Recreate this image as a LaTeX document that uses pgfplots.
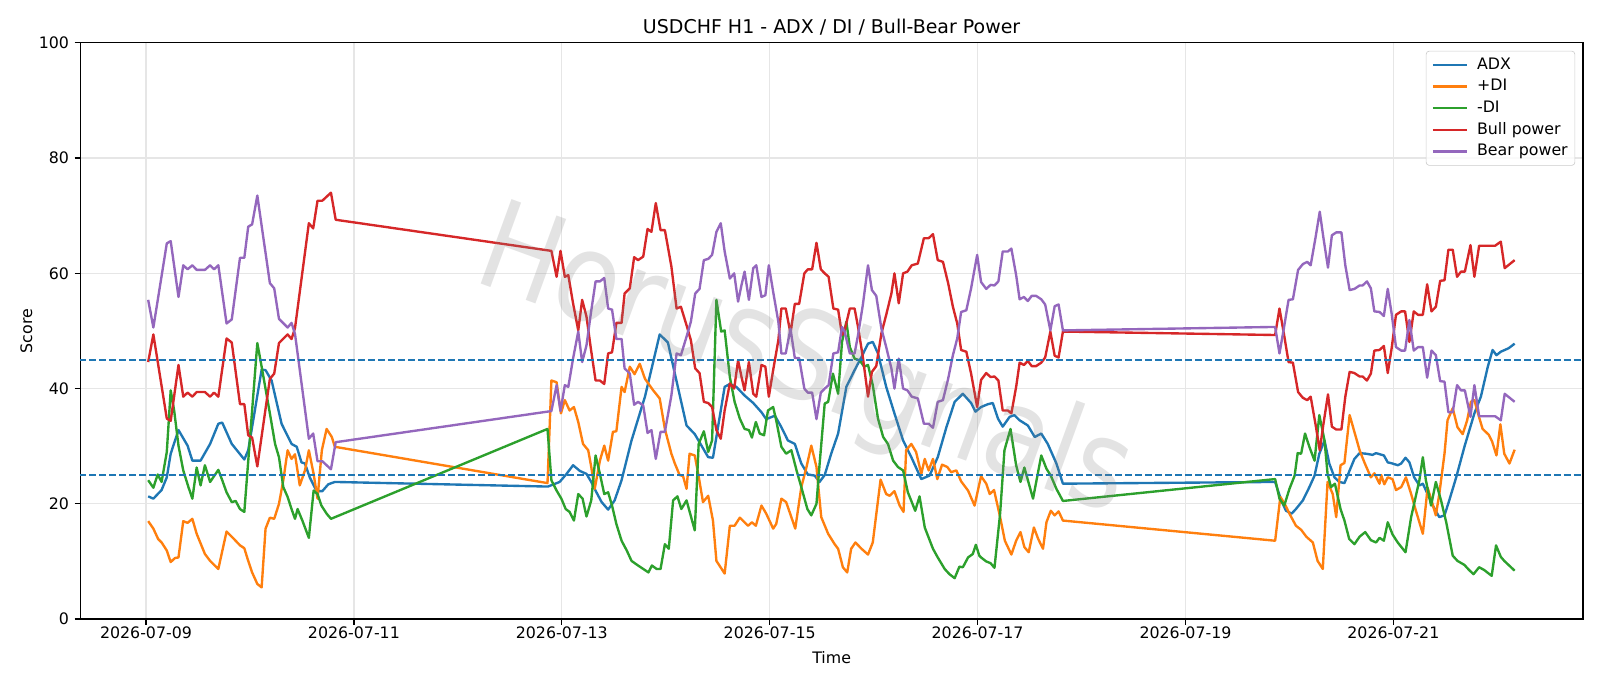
\documentclass[border=0pt]{standalone}
\usepackage{fontspec}
\setmainfont{DejaVu Sans}
\usepackage{pgfplots}
\pgfplotsset{compat=1.18}
\definecolor{tabblue}{HTML}{1F77B4}
\definecolor{taborange}{HTML}{FF7F0E}
\definecolor{tabgreen}{HTML}{2CA02C}
\definecolor{tabred}{HTML}{D62728}
\definecolor{tabpurple}{HTML}{9467BD}
\definecolor{gridgray}{HTML}{E6E6E6}
\begin{document}
\begin{tikzpicture}
\path[use as bounding box] (-50.7pt,-42.3pt) rectangle (961.1pt,391.5pt);
\begin{axis}[
  at={(0,0)}, anchor=south west,
  scale only axis, width=950.4pt, height=364.4pt,
  xmin=-15.2, xmax=331.8, ymin=0, ymax=100,
  font=\fontsize{10}{12}\selectfont,
  /pgf/number format/assume math mode=true,
  xtick={0,48,96,144,192,240,288},
  xticklabels={2026-07-09,2026-07-11,2026-07-13,2026-07-15,2026-07-17,2026-07-19,2026-07-21},
  ytick={0,20,40,60,80,100},
  tick align=outside, major tick length=3.5pt,
  tick style={black, line width=0.8pt},
  axis line style={black, line width=0.8pt},
  xtick pos=bottom, ytick pos=left,
  xticklabel style={yshift=2.5pt},
  grid=major, major grid style={gridgray, line width=0.8pt},
  title={USDCHF H1 - ADX / DI / Bull-Bear Power},
  title style={font=\fontsize{12}{14}\selectfont, at={(axis description cs:0.5,1)}, anchor=base, inner sep=0pt},
  xlabel={Time}, ylabel={Score},
  xlabel style={at={(axis description cs:0.5,-0.0563)}, anchor=north, inner sep=0pt},
  ylabel style={at={(axis description cs:-0.0317,0.5)}, anchor=south, inner sep=0pt},
  legend style={at={(axis description cs:1,1)}, anchor=north east, xshift=-5pt, yshift=-5pt,
    draw=gray!40, rounded corners=2pt, fill=white, fill opacity=0.8, text opacity=1,
    inner xsep=3.5pt, inner ysep=3pt, row sep=2.2pt, column sep=4.5pt,
    font=\fontsize{10}{12}\selectfont,
    nodes={inner sep=1pt, text height=7.5pt, text depth=2pt}},
  legend cell align=left,
  legend image code/.code={\draw[line width=1.5pt,#1] (0pt,0pt) -- (21.7pt,0pt);},
  every axis plot/.append style={line width=1.5pt, line join=round},
]
\addplot[tabblue] coordinates {
(0.5,21.3) (1.7,20.9) (3.6,22.4) (4.8,24.6) (5.7,28.7) (7.5,32.8) (9.6,30.1) (10.7,27.5) (12.6,27.5) (14.8,30.4) (16.7,33.9) (17.6,34.1) (19.8,30.4) (22.7,27.7) (23.6,29.3) (26.7,43.3) (27.6,43.2) (29.0,41.4) (31.3,33.9) (33.6,30.4) (34.8,29.9) (35.9,27.2) (36.7,27.0) (37.8,24.6) (39.4,22.2) (40.7,22.2) (42.1,23.4) (43.6,23.8)
(92.8,23.0) (95.5,23.8) (97.1,25.2) (98.6,26.7) (100.2,25.7) (101.7,25.2) (102.8,23.8) (104.0,22.0) (105.2,20.3) (106.7,19.0) (108.2,20.6) (109.8,24.1) (112.1,31.0) (115.2,38.6) (118.6,49.4) (120.5,48.0) (122.1,42.6) (124.8,33.6) (126.7,32.1) (129.8,28.1) (130.9,28.0) (133.6,40.3) (134.8,40.8) (136.3,40.3) (138.2,38.8) (140.2,37.5) (142.1,35.9) (143.2,34.7) (145.2,35.3) (146.7,33.3) (148.2,31.0) (149.8,30.4) (151.3,27.0) (152.8,25.1) (154.4,24.9) (155.5,23.8) (156.7,25.0) (158.2,28.7) (159.8,32.2) (161.7,40.3) (163.6,43.2) (165.2,45.5) (166.7,47.8) (167.8,48.1) (169.0,46.1) (170.9,40.3) (172.8,35.7) (174.8,31.0) (176.7,28.1) (179.0,24.3) (180.9,24.9) (182.8,28.1) (184.8,33.3) (186.7,37.7) (188.6,39.1) (190.5,37.5) (191.5,36.0) (192.8,36.8) (194.4,37.3) (195.5,37.5) (196.7,34.8) (197.8,33.4) (199.4,35.1) (200.5,35.4) (201.7,34.5) (203.6,33.6) (205.2,31.6) (206.7,32.2) (208.2,30.4) (210.2,27.0) (211.7,23.5)
(260.7,23.8) (262.1,20.6) (263.2,18.8) (264.5,18.3) (265.5,19.1) (267.1,20.6) (268.6,22.9) (269.8,24.9) (270.9,28.7) (272.1,31.0) (273.2,27.0) (274.4,24.6) (275.5,23.8) (276.7,23.6) (277.9,25.8) (279.0,27.8) (280.2,28.8) (281.7,28.7) (283.2,28.5) (284.0,28.8) (285.8,28.4) (286.7,27.2) (287.8,27.0) (289.0,26.7) (289.8,27.0) (290.8,28.0) (291.7,27.2) (292.8,24.6) (294.0,23.2) (294.8,23.5) (295.9,21.7) (297.1,19.7) (298.6,17.7) (299.8,18.0) (300.9,20.6) (302.5,24.6) (304.4,29.9) (306.7,35.7) (308.2,38.6) (309.8,43.8) (310.9,46.7) (311.8,45.8) (312.8,46.4) (314.6,47.0) (316.0,47.8)
};
\addlegendentry{ADX}
\addplot[taborange] coordinates {
(0.5,17.0) (1.7,15.7) (2.8,13.9) (3.6,13.3) (4.8,11.9) (5.7,9.9) (6.7,10.6) (7.5,10.7) (8.6,17.0) (9.6,16.7) (10.7,17.4) (11.7,14.8) (13.6,11.3) (14.8,10.1) (16.7,8.7) (18.6,15.2) (19.8,14.3) (21.7,12.8) (22.7,12.3) (23.6,10.1) (24.5,8.1) (25.7,6.1) (26.7,5.5) (27.6,15.7) (28.6,17.6) (29.6,17.4) (30.7,20.0) (31.7,24.1) (32.7,29.3) (33.6,27.8) (34.4,28.6) (35.5,23.2) (36.7,25.8) (37.6,29.3) (38.7,25.2) (39.6,20.9) (40.6,29.3) (41.7,33.0) (42.9,31.6) (43.6,29.9)
(92.7,23.6) (93.6,41.4) (94.8,41.1) (95.8,35.7) (96.7,38.0) (97.8,36.2) (98.8,36.8) (99.8,34.2) (100.9,30.4) (102.1,29.3) (102.8,26.4) (103.6,22.6) (104.8,27.5) (105.8,30.1) (106.7,27.5) (107.8,32.5) (108.6,32.6) (109.8,40.3) (110.5,39.4) (111.7,43.8) (112.8,42.5) (114.0,44.3) (115.2,41.7) (117.1,39.7) (118.6,38.3) (119.8,33.0) (121.3,28.7) (122.1,27.0) (123.2,25.0) (124.0,24.8) (124.8,22.6) (125.5,28.7) (126.7,28.4) (127.5,25.2) (128.6,20.3) (129.8,21.4) (130.9,17.1) (131.7,10.1) (133.6,7.9) (134.8,16.2) (135.9,16.2) (137.1,17.6) (138.2,16.8) (139.0,16.2) (139.9,16.8) (140.8,16.2) (142.1,19.7) (143.2,18.3) (144.8,15.7) (145.5,16.5) (146.7,20.9) (147.8,20.3) (149.0,17.7) (149.9,15.7) (151.3,22.9) (152.5,26.4) (153.6,30.1) (154.8,26.4) (155.9,17.7) (157.5,14.8) (159.0,13.0) (159.8,12.2) (160.9,9.0) (161.9,8.1) (162.8,12.2) (163.8,13.3) (165.2,12.2) (166.7,11.2) (167.8,13.3) (169.6,24.2) (170.9,21.7) (171.7,21.4) (172.8,22.2) (174.0,19.7) (174.9,18.6) (175.5,29.3) (176.7,30.4) (177.8,29.0) (179.0,25.2) (179.8,27.8) (180.7,25.8) (181.7,27.8) (182.7,24.3) (183.8,26.8) (185.0,26.4) (185.9,25.5) (187.1,25.8) (188.2,23.9) (189.8,22.3) (191.3,19.7) (192.8,24.8) (194.0,23.5) (194.8,21.7) (195.8,22.4) (197.2,17.7) (198.3,13.6) (199.8,11.2) (200.9,13.6) (201.9,15.1) (202.8,12.5) (203.8,11.6) (205.0,15.9) (206.0,13.9) (207.1,12.2) (207.9,16.8) (208.9,18.8) (209.8,18.0) (210.7,18.7) (211.7,17.1)
(260.7,13.6) (261.9,21.2) (262.9,20.0) (264.0,18.3) (265.5,16.2) (266.7,15.5) (267.9,14.3) (269.4,13.3) (270.5,10.1) (271.7,8.7) (272.8,23.8) (274.0,21.7) (274.8,17.7) (275.8,26.7) (276.7,27.1) (277.9,35.4) (280.2,29.3) (281.3,27.2) (282.8,24.6) (283.6,25.3) (284.8,23.5) (285.2,25.0) (285.9,23.4) (286.7,24.6) (287.8,24.3) (288.6,22.4) (289.8,22.9) (290.9,24.6) (292.1,21.7) (293.2,18.8) (294.8,14.8) (295.9,22.8) (296.8,20.6) (297.8,18.0) (298.6,21.7) (299.8,28.7) (300.5,34.5) (301.7,36.6) (302.8,33.3) (304.0,32.1) (305.0,34.4) (305.9,37.7) (306.7,38.0) (307.8,35.0) (308.6,33.0) (310.0,32.0) (310.8,30.8) (311.8,28.4) (312.7,33.8) (313.6,28.7) (314.8,27.0) (316.0,29.4)
};
\addlegendentry{+DI}
\addplot[tabgreen] coordinates {
(0.5,24.1) (1.7,22.8) (2.7,25.1) (3.6,23.8) (4.8,29.0) (5.7,39.7) (6.5,36.2) (7.5,30.1) (8.6,25.8) (9.8,22.9) (10.7,20.9) (11.7,26.3) (12.6,23.2) (13.6,26.7) (14.8,23.8) (16.7,25.9) (17.6,24.1) (18.6,22.0) (19.8,20.3) (20.7,20.5) (21.7,19.1) (22.7,18.6) (25.7,47.9) (26.7,43.8) (27.8,39.1) (28.6,35.7) (29.8,30.4) (30.7,28.1) (31.7,22.9) (32.7,21.2) (33.6,19.1) (34.4,17.4) (35.0,19.1) (36.1,17.1) (37.6,14.1) (38.7,22.3) (39.6,21.7) (40.5,19.7) (41.7,18.3) (42.7,17.4)
(92.7,33.0) (93.6,24.1) (94.8,22.3) (95.9,20.9) (96.9,19.1) (97.8,18.6) (98.8,17.1) (99.8,21.7) (100.8,20.9) (101.7,17.8) (102.8,20.6) (103.8,28.4) (104.8,25.2) (105.8,21.7) (106.7,22.0) (107.6,19.7) (108.6,16.5) (109.8,13.6) (111.0,11.9) (112.1,10.1) (113.6,9.3) (114.8,8.7) (116.0,8.1) (116.8,9.3) (117.9,8.7) (118.8,8.7) (119.8,13.0) (120.7,12.2) (121.7,20.6) (122.7,21.3) (123.6,19.1) (124.8,20.6) (126.7,15.4) (127.6,30.4) (128.8,32.6) (129.8,29.0) (130.7,31.0) (131.7,55.4) (132.8,49.9) (133.6,50.1) (134.8,42.0) (135.9,37.7) (137.1,34.8) (138.2,33.0) (139.2,32.8) (139.9,31.5) (140.8,34.2) (141.7,32.2) (142.7,31.9) (143.6,36.2) (144.8,36.8) (145.5,34.5) (146.7,29.9) (147.8,28.7) (149.0,29.3) (150.2,25.8) (151.3,22.9) (152.7,19.1) (153.6,18.0) (154.8,20.0) (155.5,26.7) (156.7,37.4) (157.5,37.7) (158.6,42.6) (159.8,39.1) (160.7,48.1) (161.7,51.6) (162.5,47.2) (163.6,45.2) (164.8,44.9) (165.8,43.8) (166.7,44.1) (167.8,40.6) (169.0,34.8) (170.2,31.6) (171.3,30.4) (172.5,27.5) (173.6,26.4) (174.8,25.8) (175.9,22.0) (177.6,18.8) (178.6,21.3) (179.8,15.9) (181.7,12.2) (182.8,10.7) (184.4,8.7) (185.5,7.8) (186.7,7.1) (187.8,9.1) (188.6,9.0) (189.8,10.7) (190.9,11.3) (191.6,12.9) (192.4,11.0) (192.8,10.7) (194.0,10.0) (195.0,9.7) (195.9,8.9) (197.2,18.3) (198.2,29.3) (199.6,33.0) (200.9,26.7) (201.9,23.8) (202.8,26.3) (204.8,20.9) (206.7,28.4) (207.9,26.1) (208.9,24.9) (210.2,22.6) (211.7,20.5)
(260.7,24.3) (261.7,20.9) (262.8,19.7) (264.0,22.6) (265.2,24.9) (265.9,28.8) (266.7,28.7) (267.6,32.2) (268.6,29.9) (269.8,27.5) (270.9,35.4) (272.1,31.0) (272.8,25.2) (273.6,22.9) (274.5,23.5) (275.8,19.1) (276.7,17.1) (277.8,13.9) (279.0,13.0) (280.2,14.3) (281.5,15.1) (282.8,13.7) (284.0,13.3) (284.8,14.1) (285.8,13.6) (286.7,16.8) (287.8,14.7) (289.0,13.3) (290.8,11.6) (292.1,17.7) (293.2,21.4) (294.0,24.1) (294.8,28.1) (295.5,24.1) (296.7,19.7) (297.8,23.8) (299.0,20.6) (300.2,16.8) (301.7,11.0) (302.8,10.1) (304.4,9.4) (305.5,8.5) (306.5,7.8) (307.8,9.0) (309.0,8.5) (310.7,7.5) (311.7,12.8) (312.8,10.8) (313.6,10.1) (316.0,8.4)
};
\addlegendentry{-DI}
\addplot[tabred] coordinates {
(0.5,44.6) (1.7,49.4) (4.8,34.8) (5.7,34.4) (7.5,44.1) (8.6,38.6) (9.6,39.3) (10.7,38.6) (11.7,39.4) (13.6,39.4) (14.8,38.6) (15.7,39.3) (16.7,38.6) (18.6,48.7) (19.8,48.0) (21.7,37.3) (22.7,37.3) (23.6,31.9) (24.5,31.5) (25.7,26.5) (28.6,41.7) (29.6,42.6) (30.7,47.9) (32.7,49.4) (33.6,48.6) (34.4,50.5) (37.6,68.7) (38.6,67.8) (39.6,72.6) (40.7,72.6) (42.7,74.0) (43.8,69.3)
(93.6,63.9) (94.8,59.4) (95.7,63.9) (96.7,59.4) (97.5,59.7) (98.6,54.8) (99.8,50.1) (100.7,55.4) (101.7,52.5) (102.7,47.0) (103.8,41.4) (104.8,41.4) (105.8,40.8) (106.7,46.1) (107.6,46.3) (108.6,51.4) (109.8,51.4) (110.5,56.5) (111.7,57.4) (112.7,62.8) (113.6,62.3) (114.8,62.9) (115.8,67.7) (116.7,67.2) (117.7,72.2) (118.8,67.5) (119.8,67.5) (121.3,61.2) (122.5,53.9) (123.5,54.2) (124.8,51.0) (125.8,48.4) (126.8,43.5) (127.8,42.7) (128.8,37.7) (129.8,37.5) (130.7,36.8) (131.7,32.8) (132.7,31.3) (133.6,36.2) (134.8,40.9) (135.8,40.0) (136.7,44.9) (137.5,42.0) (138.2,39.7) (139.2,44.6) (140.2,39.1) (140.9,38.6) (142.1,44.1) (143.0,43.8) (143.8,38.6) (144.8,43.2) (146.0,48.4) (146.7,53.9) (147.7,53.9) (148.8,49.6) (149.8,54.7) (150.8,54.7) (152.0,60.0) (152.8,60.7) (153.8,60.7) (154.8,65.3) (155.8,60.7) (156.7,60.0) (157.6,59.4) (158.7,53.9) (159.8,53.7) (160.7,49.3) (161.3,50.1) (162.5,53.9) (163.6,53.9) (164.4,50.7) (165.5,45.5) (166.7,38.6) (167.6,42.9) (168.6,43.9) (169.8,49.6) (170.9,52.8) (172.1,56.5) (172.8,60.0) (173.8,54.8) (174.8,60.0) (175.8,60.3) (176.8,61.4) (178.2,61.7) (179.6,66.1) (180.7,66.1) (181.7,66.8) (182.8,62.3) (184.0,62.0) (185.2,58.3) (186.3,54.2) (187.3,51.3) (188.2,46.7) (189.4,46.4) (190.5,42.6) (191.9,36.8) (192.8,41.5) (194.0,42.7) (195.0,42.0) (195.9,42.1) (196.8,41.4) (197.8,36.2) (199.0,36.2) (199.8,35.7) (200.9,40.3) (201.7,44.5) (202.7,44.1) (203.6,44.8) (204.5,43.9) (205.5,43.9) (206.7,44.5) (207.6,45.4) (208.8,49.9) (209.8,45.7) (210.7,45.4) (211.7,49.9)
(260.7,49.3) (261.7,53.9) (262.7,49.6) (263.8,44.6) (264.8,44.5) (266.0,39.4) (267.1,38.4) (268.1,38.0) (268.9,38.6) (270.0,33.9) (271.0,29.3) (271.8,33.6) (272.9,39.0) (273.8,33.4) (274.8,32.9) (276.0,32.9) (276.9,38.6) (277.9,42.9) (279.0,42.7) (280.2,42.1) (280.9,42.1) (281.9,41.4) (282.8,42.6) (283.6,46.6) (284.8,46.7) (285.8,47.4) (286.7,42.7) (287.6,47.0) (288.6,52.8) (289.8,53.4) (290.7,53.4) (291.7,48.1) (292.7,53.4) (293.7,52.8) (294.8,52.8) (295.8,58.1) (296.8,53.4) (297.8,54.2) (298.8,58.7) (299.8,58.8) (300.7,64.1) (301.7,64.1) (302.7,59.4) (303.6,60.3) (304.5,60.3) (305.8,64.9) (306.7,59.4) (307.8,64.8) (309.0,64.8) (310.2,64.8) (311.5,64.8) (312.8,65.5) (313.7,60.9) (316.0,62.3)
};
\addlegendentry{Bull power}
\addplot[tabpurple] coordinates {
(0.5,55.4) (1.7,50.6) (4.8,65.2) (5.7,65.6) (7.5,55.9) (8.6,61.4) (9.6,60.7) (10.7,61.4) (11.7,60.6) (13.6,60.6) (14.8,61.4) (15.7,60.7) (16.7,61.4) (18.6,51.3) (19.8,52.0) (21.7,62.7) (22.7,62.7) (23.6,68.1) (24.5,68.5) (25.7,73.5) (28.6,58.3) (29.6,57.4) (30.7,52.1) (32.7,50.6) (33.6,51.4) (34.4,49.5) (37.6,31.3) (38.6,32.2) (39.6,27.4) (40.7,27.4) (42.7,26.0) (43.8,30.7)
(93.6,36.1) (94.8,40.6) (95.7,36.1) (96.7,40.6) (97.5,40.3) (98.6,45.2) (99.8,49.9) (100.7,44.6) (101.7,47.5) (102.7,53.0) (103.8,58.6) (104.8,58.6) (105.8,59.2) (106.7,53.9) (107.6,53.7) (108.6,48.6) (109.8,48.6) (110.5,43.5) (111.7,42.6) (112.7,37.2) (113.6,37.7) (114.8,37.1) (115.8,32.3) (116.7,32.8) (117.7,27.8) (118.8,32.5) (119.8,32.5) (121.3,38.8) (122.5,46.1) (123.5,45.8) (124.8,49.0) (125.8,51.6) (126.8,56.5) (127.8,57.3) (128.8,62.3) (129.8,62.5) (130.7,63.2) (131.7,67.2) (132.7,68.7) (133.6,63.8) (134.8,59.1) (135.8,60.0) (136.7,55.1) (137.5,58.0) (138.2,60.3) (139.2,55.4) (140.2,60.9) (140.9,61.4) (142.1,55.9) (143.0,56.2) (143.8,61.4) (144.8,56.8) (146.0,51.6) (146.7,46.1) (147.7,46.1) (148.8,50.4) (149.8,45.3) (150.8,45.3) (152.0,40.0) (152.8,39.3) (153.8,39.3) (154.8,34.7) (155.8,39.3) (156.7,40.0) (157.6,40.6) (158.7,46.1) (159.8,46.3) (160.7,50.7) (161.3,49.9) (162.5,46.1) (163.6,46.1) (164.4,49.3) (165.5,54.5) (166.7,61.4) (167.6,57.1) (168.6,56.1) (169.8,50.4) (170.9,47.2) (172.1,43.5) (172.8,40.0) (173.8,45.2) (174.8,40.0) (175.8,39.7) (176.8,38.6) (178.2,38.3) (179.6,33.9) (180.7,33.9) (181.7,33.2) (182.8,37.7) (184.0,38.0) (185.2,41.7) (186.3,45.8) (187.3,48.7) (188.2,53.3) (189.4,53.6) (190.5,57.4) (191.9,63.2) (192.8,58.5) (194.0,57.3) (195.0,58.0) (195.9,57.9) (196.8,58.6) (197.8,63.8) (199.0,63.8) (199.8,64.3) (200.9,59.7) (201.7,55.5) (202.7,55.9) (203.6,55.2) (204.5,56.1) (205.5,56.1) (206.7,55.5) (207.6,54.6) (208.8,50.1) (209.8,54.3) (210.7,54.6) (211.7,50.1)
(260.7,50.7) (261.7,46.1) (262.7,50.4) (263.8,55.4) (264.8,55.5) (266.0,60.6) (267.1,61.6) (268.1,62.0) (268.9,61.4) (270.0,66.1) (271.0,70.7) (271.8,66.4) (272.9,61.0) (273.8,66.6) (274.8,67.1) (276.0,67.1) (276.9,61.4) (277.9,57.1) (279.0,57.3) (280.2,57.9) (280.9,57.9) (281.9,58.6) (282.8,57.4) (283.6,53.4) (284.8,53.3) (285.8,52.6) (286.7,57.3) (287.6,53.0) (288.6,47.2) (289.8,46.6) (290.7,46.6) (291.7,51.9) (292.7,46.6) (293.7,47.2) (294.8,47.2) (295.8,41.9) (296.8,46.6) (297.8,45.8) (298.8,41.3) (299.8,41.2) (300.7,35.9) (301.7,35.9) (302.7,40.6) (303.6,39.7) (304.5,39.7) (305.8,35.1) (306.7,40.6) (307.8,35.2) (309.0,35.2) (310.2,35.2) (311.5,35.2) (312.8,34.5) (313.7,39.1) (316.0,37.7)
};
\addlegendentry{Bear power}
\addplot[tabblue, line width=1.2pt, dash pattern=on 4.4pt off 1.9pt, forget plot] coordinates {(-20,45) (340,45)};
\addplot[tabblue, line width=1.2pt, dash pattern=on 4.4pt off 1.9pt, forget plot] coordinates {(-20,25) (340,25)};
\node[rotate=-20, text=gray, opacity=0.22, xscale=0.85, font=\fontsize{78}{80}\selectfont] at (axis cs:152,44) {HorusSignals};
\end{axis}
\end{tikzpicture}
\end{document}
